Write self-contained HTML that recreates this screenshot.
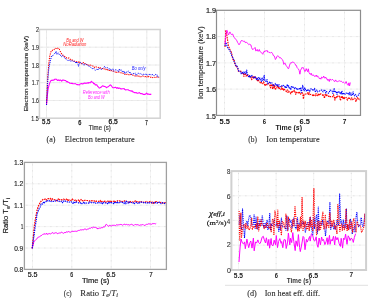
<!DOCTYPE html>
<html><head><meta charset="utf-8"><style>
html,body{margin:0;padding:0;background:#fff;width:378px;height:298px;overflow:hidden}
svg{display:block}
</style></head><body>
<div style="will-change:transform"><svg width="378" height="298" viewBox="0 0 378 298">
<rect width="378" height="298" fill="#fff"/>
<line x1="46.5" y1="29.5" x2="46.5" y2="118.2" stroke="#ececec" stroke-width="1"/>
<line x1="46.5" y1="31.5" x2="46.5" y2="118.2" stroke="#e2e2e2" stroke-width="1" stroke-dasharray="1 5"/>
<line x1="79.9" y1="29.5" x2="79.9" y2="118.2" stroke="#ececec" stroke-width="1"/>
<line x1="79.9" y1="31.5" x2="79.9" y2="118.2" stroke="#e2e2e2" stroke-width="1" stroke-dasharray="1 5"/>
<line x1="113.4" y1="29.5" x2="113.4" y2="118.2" stroke="#ececec" stroke-width="1"/>
<line x1="113.4" y1="31.5" x2="113.4" y2="118.2" stroke="#e2e2e2" stroke-width="1" stroke-dasharray="1 5"/>
<line x1="146.8" y1="29.5" x2="146.8" y2="118.2" stroke="#ececec" stroke-width="1"/>
<line x1="146.8" y1="31.5" x2="146.8" y2="118.2" stroke="#e2e2e2" stroke-width="1" stroke-dasharray="1 5"/>
<line x1="39.4" y1="100.5" x2="160.2" y2="100.5" stroke="#ececec" stroke-width="1"/>
<line x1="41.4" y1="100.5" x2="160.2" y2="100.5" stroke="#e2e2e2" stroke-width="1" stroke-dasharray="1 5"/>
<line x1="39.4" y1="82.7" x2="160.2" y2="82.7" stroke="#ececec" stroke-width="1"/>
<line x1="41.4" y1="82.7" x2="160.2" y2="82.7" stroke="#e2e2e2" stroke-width="1" stroke-dasharray="1 5"/>
<line x1="39.4" y1="65.0" x2="160.2" y2="65.0" stroke="#ececec" stroke-width="1"/>
<line x1="41.4" y1="65.0" x2="160.2" y2="65.0" stroke="#e2e2e2" stroke-width="1" stroke-dasharray="1 5"/>
<line x1="39.4" y1="47.2" x2="160.2" y2="47.2" stroke="#ececec" stroke-width="1"/>
<line x1="41.4" y1="47.2" x2="160.2" y2="47.2" stroke="#e2e2e2" stroke-width="1" stroke-dasharray="1 5"/>
<polyline points="46.5,105.0 47.3,95.8 48.1,89.0 48.9,85.6 49.7,83.1 50.5,81.1 51.3,80.3 52.1,80.4 52.9,80.1 53.7,80.3 54.5,79.3 55.3,79.2 56.1,79.1 56.9,79.8 57.7,80.5 58.5,79.9 59.3,80.6 60.1,79.9 60.9,80.3 61.7,81.2 62.5,80.1 63.3,80.0 64.1,80.2 64.9,80.5 65.7,80.5 66.5,81.8 67.3,81.5 68.1,82.3 68.9,82.3 69.7,83.2 70.5,83.3 71.3,83.4 72.1,83.4 72.9,83.6 73.7,83.7 74.5,83.7 75.3,83.6 76.1,84.1 76.9,84.6 77.7,84.5 78.5,84.7 79.3,85.0 80.1,84.0 80.9,83.8 81.7,83.6 82.5,83.9 83.3,83.7 84.1,83.2 84.9,82.9 85.7,83.4 86.5,83.3 87.3,82.8 88.1,83.3 88.9,82.5 89.7,82.7 90.5,82.7 91.3,81.3 92.1,82.2 92.9,82.2 93.7,83.7 94.5,83.5 95.3,84.9 96.1,84.7 96.9,84.9 97.7,86.4 98.5,87.0 99.3,88.1 100.1,87.8 100.9,87.3 101.7,86.8 102.5,85.7 103.3,86.0 104.1,86.4 104.9,86.5 105.7,86.9 106.5,87.7 107.3,87.1 108.1,86.7 108.9,86.1 109.7,85.3 110.5,84.9 111.3,85.7 112.1,86.8 112.9,87.7 113.7,87.7 114.5,87.6 115.3,87.3 116.1,87.6 116.9,88.4 117.7,87.6 118.5,88.5 119.3,88.1 120.1,88.3 120.9,89.0 121.7,88.9 122.5,88.8 123.3,88.7 124.1,88.6 124.9,89.6 125.7,90.0 126.5,89.8 127.3,89.8 128.1,89.8 128.9,90.3 129.7,90.6 130.5,90.8 131.3,91.3 132.1,90.8 132.9,91.9 133.7,92.1 134.5,92.6 135.3,92.8 136.1,92.5 136.9,93.1 137.7,93.3 138.5,93.0 139.3,92.6 140.1,93.2 140.9,93.7 141.7,93.6 142.5,93.8 143.3,94.5 144.1,94.3 144.9,94.6 145.7,93.9 146.5,93.1 147.3,94.1 148.1,93.9 148.9,94.3 149.7,94.4 150.5,94.4 151.3,94.0" fill="none" stroke="#ff00ff" stroke-width="1.1" stroke-linejoin="round" opacity="1"/>
<polyline points="46.5,105.0 47.3,84.4 48.1,71.7 48.9,62.8 49.7,56.3 50.5,53.1 51.3,50.7 52.1,50.7 52.9,49.9 53.7,49.9 54.5,49.0 55.3,48.2 56.1,48.4 56.9,48.6 57.7,48.1 58.5,49.5 59.3,49.2 60.1,51.0 60.9,52.6 61.7,53.9 62.5,55.0 63.3,55.2 64.1,56.3 64.9,56.4 65.7,56.9 66.5,57.9 67.3,57.6 68.1,57.9 68.9,58.0 69.7,58.6 70.5,59.6 71.3,60.3 72.1,60.0 72.9,60.3 73.7,60.9 74.5,61.2 75.3,61.5 76.1,61.7 76.9,61.7 77.7,62.3 78.5,62.2 79.3,61.3 80.1,62.7 80.9,63.2 81.7,63.8 82.5,63.2 83.3,62.5 84.1,63.7 84.9,63.5 85.7,64.6 86.5,64.5 87.3,64.5 88.1,64.8 88.9,65.3 89.7,64.8 90.5,64.9 91.3,65.8 92.1,66.1 92.9,66.0 93.7,66.2 94.5,67.6 95.3,66.8 96.1,66.9 96.9,67.1 97.7,67.0 98.5,67.6 99.3,68.2 100.1,67.8 100.9,68.3 101.7,68.8 102.5,68.5 103.3,69.3 104.1,68.8 104.9,69.5 105.7,69.2 106.5,70.5 107.3,69.7 108.1,69.6 108.9,70.4 109.7,70.5 110.5,71.2 111.3,70.5 112.1,71.0 112.9,71.2 113.7,71.0 114.5,71.3 115.3,72.2 116.1,71.6 116.9,72.5 117.7,72.5 118.5,72.1 119.3,72.1 120.1,72.6 120.9,72.7 121.7,73.2 122.5,72.9 123.3,73.5 124.1,73.6 124.9,74.5 125.7,74.0 126.5,74.4 127.3,74.2 128.1,74.8 128.9,74.6 129.7,75.2 130.5,74.6 131.3,74.5 132.1,75.1 132.9,75.1 133.7,75.2 134.5,75.8 135.3,76.0 136.1,76.5 136.9,76.1 137.7,75.8 138.5,75.5 139.3,76.7 140.1,76.7 140.9,76.7 141.7,76.5 142.5,76.0 143.3,76.2 144.1,76.8 144.9,76.7 145.7,76.5 146.5,77.2 147.3,76.7 148.1,77.4 148.9,76.4 149.7,76.9 150.5,77.2 151.3,77.3 152.1,77.9 152.9,77.4 153.7,77.2 154.5,77.2 155.3,77.5 156.1,77.7 156.9,76.9 157.7,77.0 158.5,77.3 159.3,77.6" fill="none" stroke="#ff0000" stroke-width="1.05" stroke-linejoin="round" stroke-dasharray="1.3 1.0" opacity="1"/>
<polyline points="46.5,105.0 47.3,88.9 48.1,75.7 48.9,68.1 49.7,64.1 50.5,60.2 51.3,57.1 52.1,55.6 52.9,55.6 53.7,54.5 54.5,53.5 55.3,53.6 56.1,51.3 56.9,54.4 57.7,53.2 58.5,52.9 59.3,54.8 60.1,54.6 60.9,56.3 61.7,56.8 62.5,55.4 63.3,56.0 64.1,57.3 64.9,57.9 65.7,59.0 66.5,59.3 67.3,60.4 68.1,60.3 68.9,60.5 69.7,60.3 70.5,61.0 71.3,61.2 72.1,60.5 72.9,61.5 73.7,61.5 74.5,61.4 75.3,61.7 76.1,63.5 76.9,61.8 77.7,62.6 78.5,66.4 79.3,63.8 80.1,62.7 80.9,62.8 81.7,63.3 82.5,63.7 83.3,64.8 84.1,64.8 84.9,64.9 85.7,63.8 86.5,64.7 87.3,65.0 88.1,65.8 88.9,66.2 89.7,66.4 90.5,67.2 91.3,67.6 92.1,68.6 92.9,68.6 93.7,68.3 94.5,69.3 95.3,70.3 96.1,69.4 96.9,69.0 97.7,70.2 98.5,68.3 99.3,68.4 100.1,68.9 100.9,69.1 101.7,69.3 102.5,68.5 103.3,67.7 104.1,66.8 104.9,66.7 105.7,67.9 106.5,67.9 107.3,67.6 108.1,68.0 108.9,69.3 109.7,68.3 110.5,69.8 111.3,70.2 112.1,69.6 112.9,68.8 113.7,71.2 114.5,70.4 115.3,70.0 116.1,69.3 116.9,70.3 117.7,70.7 118.5,71.8 119.3,68.9 120.1,70.6 120.9,69.9 121.7,70.1 122.5,71.9 123.3,72.2 124.1,71.0 124.9,73.7 125.7,72.1 126.5,72.2 127.3,71.9 128.1,70.9 128.9,71.6 129.7,73.3 130.5,72.6 131.3,74.4 132.1,74.1 132.9,73.4 133.7,73.5 134.5,73.7 135.3,72.9 136.1,75.5 136.9,74.4 137.7,73.2 138.5,73.3 139.3,74.0 140.1,73.5 140.9,73.9 141.7,74.4 142.5,75.0 143.3,74.2 144.1,74.4 144.9,74.8 145.7,73.5 146.5,74.5 147.3,75.5 148.1,74.4 148.9,74.2 149.7,74.5 150.5,74.0 151.3,75.1 152.1,74.4 152.9,74.8 153.7,75.9 154.5,75.1 155.3,74.4 156.1,75.0 156.9,74.6 157.7,77.0 158.5,76.7 159.3,76.4" fill="none" stroke="#0000ff" stroke-width="1.0" stroke-linejoin="round" stroke-dasharray="1.1 1.0" opacity="1"/>
<rect x="39.4" y="29.5" width="120.80" height="88.70" fill="none" stroke="#d2d2d2" stroke-width="1.5"/>
<line x1="224.5" y1="10.3" x2="224.5" y2="115.4" stroke="#f4f4f4" stroke-width="1"/>
<line x1="224.5" y1="12.3" x2="224.5" y2="115.4" stroke="#dddddd" stroke-width="1" stroke-dasharray="1 5"/>
<line x1="264.5" y1="10.3" x2="264.5" y2="115.4" stroke="#f4f4f4" stroke-width="1"/>
<line x1="264.5" y1="12.3" x2="264.5" y2="115.4" stroke="#dddddd" stroke-width="1" stroke-dasharray="1 5"/>
<line x1="304.5" y1="10.3" x2="304.5" y2="115.4" stroke="#f4f4f4" stroke-width="1"/>
<line x1="304.5" y1="12.3" x2="304.5" y2="115.4" stroke="#dddddd" stroke-width="1" stroke-dasharray="1 5"/>
<line x1="344.5" y1="10.3" x2="344.5" y2="115.4" stroke="#f4f4f4" stroke-width="1"/>
<line x1="344.5" y1="12.3" x2="344.5" y2="115.4" stroke="#dddddd" stroke-width="1" stroke-dasharray="1 5"/>
<line x1="216.5" y1="89.1" x2="360.5" y2="89.1" stroke="#f4f4f4" stroke-width="1"/>
<line x1="218.5" y1="89.1" x2="360.5" y2="89.1" stroke="#dddddd" stroke-width="1" stroke-dasharray="1 5"/>
<line x1="216.5" y1="62.9" x2="360.5" y2="62.9" stroke="#f4f4f4" stroke-width="1"/>
<line x1="218.5" y1="62.9" x2="360.5" y2="62.9" stroke="#dddddd" stroke-width="1" stroke-dasharray="1 5"/>
<line x1="216.5" y1="36.6" x2="360.5" y2="36.6" stroke="#f4f4f4" stroke-width="1"/>
<line x1="218.5" y1="36.6" x2="360.5" y2="36.6" stroke="#dddddd" stroke-width="1" stroke-dasharray="1 5"/>
<polyline points="225.0,47.0 225.7,30.8 226.4,32.8 227.1,37.1 227.8,41.6 228.5,46.2 229.2,47.8 229.9,49.5 230.6,50.9 231.3,52.3 232.0,55.0 232.7,58.9 233.4,59.9 234.1,59.7 234.8,63.8 235.5,65.2 236.2,67.0 236.9,66.6 237.6,67.3 238.3,71.1 239.0,71.3 239.7,70.8 240.4,71.1 241.1,71.3 241.8,72.7 242.5,73.2 243.2,72.6 243.9,76.4 244.6,74.4 245.3,73.0 246.0,76.1 246.7,74.9 247.4,75.7 248.1,75.0 248.8,75.8 249.5,76.4 250.2,76.8 250.9,76.5 251.6,79.6 252.3,78.4 253.0,76.2 253.7,78.6 254.4,76.1 255.1,77.4 255.8,78.9 256.5,78.1 257.2,80.3 257.9,81.5 258.6,80.4 259.3,81.3 260.0,82.2 260.7,83.6 261.4,82.5 262.1,82.5 262.8,83.7 263.5,81.8 264.2,82.8 264.9,86.0 265.6,84.4 266.3,83.8 267.0,84.8 267.7,83.9 268.4,83.4 269.1,84.6 269.8,85.2 270.5,87.8 271.2,84.2 271.9,85.3 272.6,89.3 273.3,84.1 274.0,88.5 274.7,85.4 275.4,90.0 276.1,87.7 276.8,87.7 277.5,85.5 278.2,88.1 278.9,86.8 279.6,88.8 280.3,89.6 281.0,89.4 281.7,86.5 282.4,90.0 283.1,88.2 283.8,90.7 284.5,89.3 285.2,90.5 285.9,91.0 286.6,91.6 287.3,89.9 288.0,92.5 288.7,91.0 289.4,92.0 290.1,92.2 290.8,93.9 291.5,91.3 292.2,92.1 292.9,91.3 293.6,91.9 294.3,90.3 295.0,91.9 295.7,94.3 296.4,92.3 297.1,92.7 297.8,92.1 298.5,92.9 299.2,91.5 299.9,93.8 300.6,94.2 301.3,93.2 302.0,92.5 302.7,93.4 303.4,99.0 304.1,94.0 304.8,94.0 305.5,94.0 306.2,94.2 306.9,93.9 307.6,92.8 308.3,94.5 309.0,92.3 309.7,94.6 310.4,94.5 311.1,94.3 311.8,94.4 312.5,95.2 313.2,96.3 313.9,94.6 314.6,94.5 315.3,95.8 316.0,93.6 316.7,95.2 317.4,95.6 318.1,94.1 318.8,95.8 319.5,93.6 320.2,94.3 320.9,93.8 321.6,94.1 322.3,94.7 323.0,96.2 323.7,94.9 324.4,98.3 325.1,94.6 325.8,96.0 326.5,94.0 327.2,96.0 327.9,96.1 328.6,96.5 329.3,95.6 330.0,96.6 330.7,96.7 331.4,96.5 332.1,96.8 332.8,96.5 333.5,94.7 334.2,96.6 334.9,100.2 335.6,96.6 336.3,96.7 337.0,97.6 337.7,96.0 338.4,96.6 339.1,96.1 339.8,97.7 340.5,100.6 341.2,95.9 341.9,98.3 342.6,96.5 343.3,99.3 344.0,96.8 344.7,98.6 345.4,98.2 346.1,97.4 346.8,99.0 347.5,100.1 348.2,98.3 348.9,97.3 349.6,98.5 350.3,98.1 351.0,99.8 351.7,97.8 352.4,99.6 353.1,99.3 353.8,98.9 354.5,98.2 355.2,98.7 355.9,101.5 356.6,99.9 357.3,97.7 358.0,98.5 358.7,98.1 359.4,100.9" fill="none" stroke="#ff0000" stroke-width="1.15" stroke-linejoin="round" stroke-dasharray="1.6 0.9" opacity="1"/>
<polyline points="225.0,46.0 225.7,42.3 226.4,43.8 227.1,46.1 227.8,47.7 228.5,48.9 229.2,49.7 229.9,50.8 230.6,52.3 231.3,54.3 232.0,56.3 232.7,57.3 233.4,58.7 234.1,61.7 234.8,62.5 235.5,64.6 236.2,66.3 236.9,66.1 237.6,67.6 238.3,69.7 239.0,71.2 239.7,71.1 240.4,72.0 241.1,73.7 241.8,72.2 242.5,73.6 243.2,72.0 243.9,73.9 244.6,72.3 245.3,72.0 246.0,73.8 246.7,70.1 247.4,74.8 248.1,75.3 248.8,77.3 249.5,75.5 250.2,77.7 250.9,76.2 251.6,75.0 252.3,76.3 253.0,77.3 253.7,77.6 254.4,78.2 255.1,76.3 255.8,77.8 256.5,79.5 257.2,78.2 257.9,80.0 258.6,77.5 259.3,79.1 260.0,78.2 260.7,80.0 261.4,81.5 262.1,77.5 262.8,80.4 263.5,80.6 264.2,75.3 264.9,80.6 265.6,81.5 266.3,81.1 267.0,79.5 267.7,83.9 268.4,83.4 269.1,82.7 269.8,81.6 270.5,83.3 271.2,82.7 271.9,82.8 272.6,83.7 273.3,86.1 274.0,85.6 274.7,84.9 275.4,83.4 276.1,84.6 276.8,86.0 277.5,84.8 278.2,86.4 278.9,84.5 279.6,86.1 280.3,86.6 281.0,86.5 281.7,85.7 282.4,86.2 283.1,85.3 283.8,85.9 284.5,86.9 285.2,85.9 285.9,88.3 286.6,87.1 287.3,84.1 288.0,86.7 288.7,85.9 289.4,88.9 290.1,88.1 290.8,89.4 291.5,86.0 292.2,87.2 292.9,86.2 293.6,88.2 294.3,88.7 295.0,87.1 295.7,88.8 296.4,89.0 297.1,88.1 297.8,89.4 298.5,89.9 299.2,88.6 299.9,89.5 300.6,87.4 301.3,92.5 302.0,89.4 302.7,85.4 303.4,88.5 304.1,90.8 304.8,87.7 305.5,89.5 306.2,90.9 306.9,89.4 307.6,90.4 308.3,89.5 309.0,90.3 309.7,91.4 310.4,90.0 311.1,88.5 311.8,88.9 312.5,90.0 313.2,90.6 313.9,89.6 314.6,88.4 315.3,92.3 316.0,90.2 316.7,90.0 317.4,91.9 318.1,91.3 318.8,91.1 319.5,91.1 320.2,90.4 320.9,90.3 321.6,90.0 322.3,90.3 323.0,91.9 323.7,91.0 324.4,89.5 325.1,90.8 325.8,93.1 326.5,91.6 327.2,92.3 327.9,92.7 328.6,93.2 329.3,92.5 330.0,90.1 330.7,90.2 331.4,91.0 332.1,91.0 332.8,93.4 333.5,92.0 334.2,88.0 334.9,92.5 335.6,91.1 336.3,92.0 337.0,94.4 337.7,92.6 338.4,91.1 339.1,92.0 339.8,93.2 340.5,92.1 341.2,94.0 341.9,90.9 342.6,94.6 343.3,93.7 344.0,92.9 344.7,93.9 345.4,94.1 346.1,93.0 346.8,93.2 347.5,92.7 348.2,93.9 348.9,94.7 349.6,92.4 350.3,95.0 351.0,93.0 351.7,95.3 352.4,95.5 353.1,91.8 353.8,94.7 354.5,95.8 355.2,94.4 355.9,95.2 356.6,96.5 357.3,95.6 358.0,95.3 358.7,94.9 359.4,92.9" fill="none" stroke="#0000ff" stroke-width="1.1" stroke-linejoin="round" stroke-dasharray="1.3 0.9" opacity="1"/>
<polyline points="225.0,44.0 225.7,37.4 226.4,30.7 227.1,30.3 227.8,33.0 228.5,34.9 229.2,33.6 229.9,31.9 230.6,33.4 231.3,34.5 232.0,34.3 232.7,34.0 233.4,36.0 234.1,37.5 234.8,38.1 235.5,38.9 236.2,39.8 236.9,40.8 237.6,42.5 238.3,43.5 239.0,44.8 239.7,44.0 240.4,42.4 241.1,40.9 241.8,40.2 242.5,41.0 243.2,41.3 243.9,41.3 244.6,41.2 245.3,42.7 246.0,42.2 246.7,42.5 247.4,43.1 248.1,43.6 248.8,44.7 249.5,44.0 250.2,44.8 250.9,44.9 251.6,47.6 252.3,49.2 253.0,49.6 253.7,48.7 254.4,48.3 255.1,47.5 255.8,51.0 256.5,50.6 257.2,49.4 257.9,51.3 258.6,51.0 259.3,49.5 260.0,51.6 260.7,51.9 261.4,52.6 262.1,53.5 262.8,54.3 263.5,51.9 264.2,52.1 264.9,50.7 265.6,51.1 266.3,51.1 267.0,50.3 267.7,52.1 268.4,51.8 269.1,52.6 269.8,52.3 270.5,53.2 271.2,52.4 271.9,52.5 272.6,53.6 273.3,55.5 274.0,55.7 274.7,57.0 275.4,59.5 276.1,58.5 276.8,56.8 277.5,55.8 278.2,55.9 278.9,56.8 279.6,57.9 280.3,57.6 281.0,58.1 281.7,59.1 282.4,59.6 283.1,61.1 283.8,64.4 284.5,63.3 285.2,63.3 285.9,65.2 286.6,66.2 287.3,67.2 288.0,68.6 288.7,68.5 289.4,65.9 290.1,63.8 290.8,62.7 291.5,63.0 292.2,62.0 292.9,62.0 293.6,62.3 294.3,63.0 295.0,63.7 295.7,65.4 296.4,65.5 297.1,67.6 297.8,68.5 298.5,69.1 299.2,70.6 299.9,74.2 300.6,70.2 301.3,68.9 302.0,67.3 302.7,67.9 303.4,67.7 304.1,69.6 304.8,71.7 305.5,71.1 306.2,68.6 306.9,70.4 307.6,71.7 308.3,68.8 309.0,72.6 309.7,73.9 310.4,74.5 311.1,73.1 311.8,75.2 312.5,75.3 313.2,74.7 313.9,75.9 314.6,76.4 315.3,75.5 316.0,76.6 316.7,75.1 317.4,76.9 318.1,76.3 318.8,77.5 319.5,78.9 320.2,78.1 320.9,79.2 321.6,77.0 322.3,77.7 323.0,77.7 323.7,76.0 324.4,78.0 325.1,78.0 325.8,77.1 326.5,79.1 327.2,78.9 327.9,80.5 328.6,79.5 329.3,81.5 330.0,78.9 330.7,79.9 331.4,80.2 332.1,79.4 332.8,79.6 333.5,80.3 334.2,81.4 334.9,81.5 335.6,79.9 336.3,81.2 337.0,81.7 337.7,81.6 338.4,81.2 339.1,81.1 339.8,80.7 340.5,81.3 341.2,81.2 341.9,81.6 342.6,82.5 343.3,82.1 344.0,82.6 344.7,83.3 345.4,83.2 346.1,81.5 346.8,83.3 347.5,84.7 348.2,85.4 348.9,82.8 349.6,85.9 350.3,82.5" fill="none" stroke="#ff00ff" stroke-width="0.9" stroke-linejoin="round" opacity="1"/>
<rect x="216.5" y="10.3" width="144.00" height="105.10" fill="none" stroke="#8c8c8c" stroke-width="1.2"/>
<line x1="32.5" y1="162.4" x2="32.5" y2="269.4" stroke="#f4f4f4" stroke-width="1"/>
<line x1="32.5" y1="164.4" x2="32.5" y2="269.4" stroke="#dddddd" stroke-width="1" stroke-dasharray="1 5"/>
<line x1="71.8" y1="162.4" x2="71.8" y2="269.4" stroke="#f4f4f4" stroke-width="1"/>
<line x1="71.8" y1="164.4" x2="71.8" y2="269.4" stroke="#dddddd" stroke-width="1" stroke-dasharray="1 5"/>
<line x1="111.2" y1="162.4" x2="111.2" y2="269.4" stroke="#f4f4f4" stroke-width="1"/>
<line x1="111.2" y1="164.4" x2="111.2" y2="269.4" stroke="#dddddd" stroke-width="1" stroke-dasharray="1 5"/>
<line x1="150.5" y1="162.4" x2="150.5" y2="269.4" stroke="#f4f4f4" stroke-width="1"/>
<line x1="150.5" y1="164.4" x2="150.5" y2="269.4" stroke="#dddddd" stroke-width="1" stroke-dasharray="1 5"/>
<line x1="24.4" y1="248.0" x2="166.4" y2="248.0" stroke="#f4f4f4" stroke-width="1"/>
<line x1="26.4" y1="248.0" x2="166.4" y2="248.0" stroke="#dddddd" stroke-width="1" stroke-dasharray="1 5"/>
<line x1="24.4" y1="226.6" x2="166.4" y2="226.6" stroke="#f4f4f4" stroke-width="1"/>
<line x1="26.4" y1="226.6" x2="166.4" y2="226.6" stroke="#dddddd" stroke-width="1" stroke-dasharray="1 5"/>
<line x1="24.4" y1="205.2" x2="166.4" y2="205.2" stroke="#f4f4f4" stroke-width="1"/>
<line x1="26.4" y1="205.2" x2="166.4" y2="205.2" stroke="#dddddd" stroke-width="1" stroke-dasharray="1 5"/>
<line x1="24.4" y1="183.8" x2="166.4" y2="183.8" stroke="#f4f4f4" stroke-width="1"/>
<line x1="26.4" y1="183.8" x2="166.4" y2="183.8" stroke="#dddddd" stroke-width="1" stroke-dasharray="1 5"/>
<polyline points="32.2,248.4 33.0,245.4 33.8,242.1 34.6,240.8 35.4,240.0 36.2,239.4 37.0,238.8 37.8,237.4 38.6,237.1 39.4,236.8 40.2,236.2 41.0,235.7 41.8,235.3 42.6,234.5 43.4,234.2 44.2,234.2 45.0,233.5 45.8,234.4 46.6,233.1 47.4,234.4 48.2,233.8 49.0,233.9 49.8,233.5 50.6,233.9 51.4,233.4 52.2,232.8 53.0,232.6 53.8,233.7 54.6,233.1 55.4,232.8 56.2,232.7 57.0,233.3 57.8,233.7 58.6,233.2 59.4,233.0 60.2,233.0 61.0,232.7 61.8,232.1 62.6,232.8 63.4,233.3 64.2,233.0 65.0,232.1 65.8,232.8 66.6,231.6 67.4,232.1 68.2,231.6 69.0,231.6 69.8,232.2 70.6,232.2 71.4,231.7 72.2,231.3 73.0,231.4 73.8,231.4 74.6,231.3 75.4,231.2 76.2,231.5 77.0,231.0 77.8,230.9 78.6,230.4 79.4,230.4 80.2,230.0 81.0,229.7 81.8,230.0 82.6,229.7 83.4,229.8 84.2,229.6 85.0,228.6 85.8,229.6 86.6,229.7 87.4,229.2 88.2,229.1 89.0,228.6 89.8,228.1 90.6,228.3 91.4,227.4 92.2,228.1 93.0,227.4 93.8,227.1 94.6,227.4 95.4,227.3 96.2,228.0 97.0,227.8 97.8,229.1 98.6,228.3 99.4,228.1 100.2,228.1 101.0,228.1 101.8,227.5 102.6,227.8 103.4,226.7 104.2,227.3 105.0,226.3 105.8,224.6 106.6,224.4 107.4,225.3 108.2,226.2 109.0,226.2 109.8,225.2 110.6,225.7 111.4,226.0 112.2,225.4 113.0,225.3 113.8,225.3 114.6,225.3 115.4,225.7 116.2,224.9 117.0,224.7 117.8,225.1 118.6,224.8 119.4,224.7 120.2,224.6 121.0,224.2 121.8,224.8 122.6,225.2 123.4,224.7 124.2,224.1 125.0,224.7 125.8,224.7 126.6,224.4 127.4,224.8 128.2,224.7 129.0,224.7 129.8,225.2 130.6,224.6 131.4,224.3 132.2,224.6 133.0,225.1 133.8,225.5 134.6,224.7 135.4,224.5 136.2,224.9 137.0,224.5 137.8,224.8 138.6,225.0 139.4,225.4 140.2,224.9 141.0,225.2 141.8,224.8 142.6,224.6 143.4,224.7 144.2,225.5 145.0,225.1 145.8,224.9 146.6,224.3 147.4,224.4 148.2,223.8 149.0,224.0 149.8,223.9 150.6,224.0 151.4,224.3 152.2,223.6 153.0,223.9 153.8,223.5 154.6,223.6 155.4,223.9 156.2,223.4" fill="none" stroke="#ff00ff" stroke-width="1.0" stroke-linejoin="round" opacity="1"/>
<polyline points="32.2,248.4 33.0,240.1 33.8,231.3 34.6,224.0 35.4,219.2 36.2,214.5 37.0,210.5 37.8,207.8 38.6,205.5 39.4,204.3 40.2,201.9 41.0,201.4 41.8,200.3 42.6,199.9 43.4,199.2 44.2,199.3 45.0,199.1 45.8,198.6 46.6,200.1 47.4,199.1 48.2,198.6 49.0,199.1 49.8,199.3 50.6,198.3 51.4,200.4 52.2,198.7 53.0,199.7 53.8,199.8 54.6,199.7 55.4,199.5 56.2,200.2 57.0,200.9 57.8,199.8 58.6,198.5 59.4,199.8 60.2,199.2 61.0,199.7 61.8,199.8 62.6,199.6 63.4,199.2 64.2,199.4 65.0,200.0 65.8,200.0 66.6,198.9 67.4,199.3 68.2,201.2 69.0,199.9 69.8,200.0 70.6,200.4 71.4,199.9 72.2,198.9 73.0,199.8 73.8,200.0 74.6,200.4 75.4,200.2 76.2,201.4 77.0,200.4 77.8,200.5 78.6,200.0 79.4,201.8 80.2,200.1 81.0,199.5 81.8,200.9 82.6,200.6 83.4,201.2 84.2,201.0 85.0,200.2 85.8,200.6 86.6,200.5 87.4,200.5 88.2,200.7 89.0,201.1 89.8,200.7 90.6,200.4 91.4,200.8 92.2,200.7 93.0,200.9 93.8,200.9 94.6,201.1 95.4,200.5 96.2,201.3 97.0,201.2 97.8,201.2 98.6,201.4 99.4,201.2 100.2,200.4 101.0,202.2 101.8,201.4 102.6,201.6 103.4,201.5 104.2,201.5 105.0,201.1 105.8,202.3 106.6,201.2 107.4,201.2 108.2,201.3 109.0,200.7 109.8,201.5 110.6,200.6 111.4,201.7 112.2,201.3 113.0,201.2 113.8,201.4 114.6,200.6 115.4,202.0 116.2,201.8 117.0,201.2 117.8,200.7 118.6,200.9 119.4,200.9 120.2,201.1 121.0,201.1 121.8,201.4 122.6,201.8 123.4,201.2 124.2,201.2 125.0,200.7 125.8,201.3 126.6,201.3 127.4,202.0 128.2,202.3 129.0,202.2 129.8,201.1 130.6,202.0 131.4,201.9 132.2,201.9 133.0,202.0 133.8,202.1 134.6,201.8 135.4,200.7 136.2,201.4 137.0,201.8 137.8,201.5 138.6,202.2 139.4,201.6 140.2,201.7 141.0,201.5 141.8,202.2 142.6,202.3 143.4,202.2 144.2,202.6 145.0,202.0 145.8,201.7 146.6,201.3 147.4,202.0 148.2,202.5 149.0,202.2 149.8,201.6 150.6,202.4 151.4,202.9 152.2,202.0 153.0,203.4 153.8,201.8 154.6,203.0 155.4,202.0 156.2,201.5 157.0,202.4 157.8,202.4 158.6,202.4 159.4,202.6 160.2,202.5 161.0,202.4 161.8,202.6 162.6,203.2 163.4,202.5 164.2,202.8 165.0,202.7 165.8,202.6" fill="none" stroke="#ff0000" stroke-width="1.2" stroke-linejoin="round" stroke-dasharray="1.6 0.9" opacity="1"/>
<polyline points="32.2,248.4 33.0,242.2 33.8,237.0 34.6,231.1 35.4,225.3 36.2,220.2 37.0,214.4 37.8,212.0 38.6,210.1 39.4,208.1 40.2,207.0 41.0,204.3 41.8,203.6 42.6,204.0 43.4,202.3 44.2,203.4 45.0,202.2 45.8,202.1 46.6,200.5 47.4,200.7 48.2,201.0 49.0,200.4 49.8,201.2 50.6,201.9 51.4,201.2 52.2,201.2 53.0,201.3 53.8,201.5 54.6,201.3 55.4,200.9 56.2,200.8 57.0,200.4 57.8,201.1 58.6,200.9 59.4,201.5 60.2,201.6 61.0,201.5 61.8,201.2 62.6,202.7 63.4,201.0 64.2,201.8 65.0,201.1 65.8,201.4 66.6,201.5 67.4,202.0 68.2,201.9 69.0,202.1 69.8,202.0 70.6,202.4 71.4,201.9 72.2,202.0 73.0,203.4 73.8,202.2 74.6,203.5 75.4,202.0 76.2,201.5 77.0,202.5 77.8,202.7 78.6,202.9 79.4,202.4 80.2,202.6 81.0,203.9 81.8,203.4 82.6,203.7 83.4,202.9 84.2,201.9 85.0,203.6 85.8,203.1 86.6,203.0 87.4,203.0 88.2,203.2 89.0,202.9 89.8,201.8 90.6,203.0 91.4,202.8 92.2,202.5 93.0,202.6 93.8,202.5 94.6,203.4 95.4,203.2 96.2,203.0 97.0,202.6 97.8,203.0 98.6,202.0 99.4,203.0 100.2,203.2 101.0,203.0 101.8,202.4 102.6,203.7 103.4,202.4 104.2,203.0 105.0,203.0 105.8,202.8 106.6,203.8 107.4,203.7 108.2,202.2 109.0,203.5 109.8,202.8 110.6,202.0 111.4,202.8 112.2,202.5 113.0,203.0 113.8,203.7 114.6,202.4 115.4,203.4 116.2,202.6 117.0,203.4 117.8,202.0 118.6,202.7 119.4,202.7 120.2,202.8 121.0,202.0 121.8,202.9 122.6,202.5 123.4,202.3 124.2,203.6 125.0,201.9 125.8,203.8 126.6,201.3 127.4,202.0 128.2,203.1 129.0,201.9 129.8,202.6 130.6,202.2 131.4,202.5 132.2,202.7 133.0,203.1 133.8,202.3 134.6,203.6 135.4,202.8 136.2,202.3 137.0,202.7 137.8,203.4 138.6,202.5 139.4,202.9 140.2,202.3 141.0,202.6 141.8,202.0 142.6,202.0 143.4,202.5 144.2,203.1 145.0,202.9 145.8,202.7 146.6,202.4 147.4,203.0 148.2,202.3 149.0,202.8 149.8,202.9 150.6,202.9 151.4,202.6 152.2,202.5 153.0,202.4 153.8,203.1 154.6,202.8 155.4,202.6 156.2,202.6 157.0,203.2 157.8,202.5 158.6,202.7 159.4,202.2 160.2,202.8 161.0,203.7 161.8,202.6 162.6,202.6 163.4,202.6 164.2,203.2 165.0,203.7 165.8,202.8" fill="none" stroke="#0000ff" stroke-width="1.2" stroke-linejoin="round" stroke-dasharray="1.3 0.9" opacity="1"/>
<rect x="24.4" y="162.4" width="142.00" height="107.00" fill="none" stroke="#a0a0a0" stroke-width="1.3"/>
<line x1="238.5" y1="171.1" x2="238.5" y2="270.0" stroke="#f4f4f4" stroke-width="1"/>
<line x1="238.5" y1="173.1" x2="238.5" y2="270.0" stroke="#dddddd" stroke-width="1" stroke-dasharray="1 5"/>
<line x1="276.1" y1="171.1" x2="276.1" y2="270.0" stroke="#f4f4f4" stroke-width="1"/>
<line x1="276.1" y1="173.1" x2="276.1" y2="270.0" stroke="#dddddd" stroke-width="1" stroke-dasharray="1 5"/>
<line x1="313.7" y1="171.1" x2="313.7" y2="270.0" stroke="#f4f4f4" stroke-width="1"/>
<line x1="313.7" y1="173.1" x2="313.7" y2="270.0" stroke="#dddddd" stroke-width="1" stroke-dasharray="1 5"/>
<line x1="351.3" y1="171.1" x2="351.3" y2="270.0" stroke="#f4f4f4" stroke-width="1"/>
<line x1="351.3" y1="173.1" x2="351.3" y2="270.0" stroke="#dddddd" stroke-width="1" stroke-dasharray="1 5"/>
<line x1="231.4" y1="245.1" x2="366.1" y2="245.1" stroke="#f4f4f4" stroke-width="1"/>
<line x1="233.4" y1="245.1" x2="366.1" y2="245.1" stroke="#dddddd" stroke-width="1" stroke-dasharray="1 5"/>
<line x1="231.4" y1="220.4" x2="366.1" y2="220.4" stroke="#f4f4f4" stroke-width="1"/>
<line x1="233.4" y1="220.4" x2="366.1" y2="220.4" stroke="#dddddd" stroke-width="1" stroke-dasharray="1 5"/>
<line x1="231.4" y1="195.8" x2="366.1" y2="195.8" stroke="#f4f4f4" stroke-width="1"/>
<line x1="233.4" y1="195.8" x2="366.1" y2="195.8" stroke="#dddddd" stroke-width="1" stroke-dasharray="1 5"/>
<polyline points="239.0,262.0 240.1,247.0 241.0,239.0 242.4,243.1 243.6,243.9 244.6,241.9 245.3,248.7 246.9,239.1 247.7,243.1 248.7,247.7 250.0,242.4 250.8,241.0 252.0,248.1 253.4,238.1 254.2,250.8 255.5,241.9 256.5,243.1 257.9,239.9 258.5,242.4 259.9,243.7 260.8,241.9 262.1,237.2 263.3,236.3 264.1,239.2 265.5,243.0 266.4,237.8 267.8,245.6 268.8,239.4 269.6,248.2 271.1,238.5 271.7,244.8 273.0,245.8 274.2,240.2 275.5,244.7 276.3,235.5 277.5,247.6 278.6,241.4 279.8,238.6 281.1,243.4 281.7,241.5 282.8,247.7 284.0,239.6 285.4,239.9 286.2,248.5 287.6,242.1 288.4,233.1 289.8,244.9 290.5,238.2 291.7,242.6 292.8,232.6 293.8,241.5 295.2,250.6 296.0,240.8 297.5,246.3 298.4,234.6 299.6,247.5 300.3,251.6 301.6,245.1 303.1,236.4 303.9,237.2 305.0,249.7 306.4,239.3 307.2,242.1 308.2,239.9 309.7,236.4 310.2,241.1 311.4,233.8 312.6,234.9 313.8,240.3 314.8,241.1 316.2,236.8 317.1,244.5 318.0,247.3 319.1,238.0 320.4,244.8 321.6,237.0 322.5,240.7 323.5,239.4 324.9,244.6 326.1,241.6 327.1,237.7 327.8,244.5 329.5,235.3 330.1,244.3 331.1,239.5 332.2,241.0 333.5,236.2 334.7,244.8 335.5,236.5 336.9,239.9 337.8,237.6 339.2,243.8 340.4,246.4 341.2,238.3 342.6,248.1 343.5,238.2 344.6,239.5 345.6,234.2 347.0,244.3 348.2,235.8 349.3,237.8 350.0,240.6 351.1,238.2 352.5,239.3 353.3,242.4 354.3,237.6 355.6,233.7" fill="none" stroke="#ff00ff" stroke-width="1.0" stroke-linejoin="round" opacity="1"/>
<polyline points="239.1,224.5 240.1,214.9 241.0,227.2 241.7,229.8 242.5,208.7 243.4,223.8 244.5,238.0 245.5,225.1 246.0,223.5 247.0,221.1 247.8,225.8 248.6,219.1 249.6,215.2 250.7,216.6 251.9,225.2 252.7,225.2 253.5,223.9 254.1,214.0 255.2,229.2 256.0,217.1 257.3,229.7 257.7,222.6 258.5,228.4 259.9,219.8 260.4,220.1 261.3,225.3 262.3,215.0 263.0,222.2 263.9,228.3 265.1,222.6 266.0,227.6 267.1,220.2 267.6,229.0 268.4,229.8 269.8,213.0 270.5,230.5 271.3,224.4 272.2,225.9 273.1,223.4 274.4,219.3 274.8,224.8 276.2,225.9 276.8,222.5 277.9,224.6 278.8,231.4 279.4,222.5 280.2,230.2 281.4,218.0 282.2,226.8 282.8,226.7 283.8,226.6 284.7,226.8 286.0,230.3 286.9,215.8 287.8,230.0 288.6,221.8 289.2,218.5 290.5,222.7 291.0,220.3 292.0,227.6 293.2,220.4 293.6,218.0 294.9,224.5 295.6,228.9 296.3,228.8 297.5,217.9 298.3,228.6 299.2,223.0 300.1,225.9 301.4,225.3 302.1,221.5 303.1,224.2 303.8,221.8 304.6,226.2 305.4,232.8 306.5,224.3 307.4,222.6 308.5,227.1 309.2,224.9 310.3,217.4 310.7,223.9 311.7,229.7 312.8,234.7 313.9,217.8 314.5,228.9 315.6,219.5 316.6,214.6 317.5,233.2 318.3,207.0 319.1,229.6 319.9,223.2 320.8,222.7 321.9,225.1 322.5,220.2 323.6,225.0 324.7,228.2 325.5,236.0 326.2,229.5 327.4,220.8 328.3,222.0 329.0,223.8 329.9,202.0 330.7,230.1 331.5,224.4 332.7,225.4 333.7,228.8 334.5,222.4 335.2,229.4 336.2,226.4 337.1,220.0 338.3,225.7 338.9,221.4 339.6,193.5 340.8,223.0 341.3,221.1 342.6,227.3 343.3,219.8 344.2,225.3 345.1,228.1 346.4,209.0 346.9,229.0 347.8,226.5 348.9,224.8 349.9,228.8 350.4,219.4 351.6,222.9 352.2,234.0 353.1,230.5 354.5,226.1 355.0,232.6 356.0,217.3 356.9,212.0 357.7,223.0 358.7,226.6 359.6,225.3 360.6,224.8 361.1,217.5 362.6,226.8 363.4,225.2 363.8,222.5 365.1,214.0 365.8,219.7" fill="none" stroke="#0000ff" stroke-width="1.1" stroke-linejoin="round" stroke-dasharray="1 0.9" opacity="1"/>
<polyline points="239.1,211.0 239.6,240.0 240.9,213.0 241.4,238.0 242.9,226.8 243.6,224.6 244.3,224.7 245.3,228.1 245.9,223.2 247.0,228.9 248.1,225.6 248.8,229.9 250.0,228.9 250.6,226.3 251.7,217.7 252.3,229.7 253.3,226.2 254.4,227.7 255.5,226.4 256.2,223.8 256.8,229.1 257.8,216.5 258.7,231.0 259.7,224.0 260.3,225.9 261.2,219.7 262.1,224.3 263.3,225.5 264.2,228.6 265.2,225.3 265.9,228.1 267.1,222.6 267.6,224.1 268.9,227.9 269.6,228.2 270.3,224.2 271.2,231.6 272.6,218.7 273.5,221.2 273.9,235.1 274.9,210.8 276.2,217.2 277.1,227.2 277.8,210.0 278.3,227.2 279.3,220.4 280.4,226.5 281.4,235.4 282.1,221.6 283.4,222.1 284.2,227.1 285.0,227.9 285.9,214.0 286.7,220.4 287.7,230.7 288.3,217.1 289.5,226.1 290.0,225.1 291.4,231.9 292.3,224.9 292.8,219.5 294.0,226.6 295.0,206.0 296.0,219.4 296.8,220.3 297.7,231.0 298.1,224.3 299.2,230.8 300.5,217.4 301.0,228.5 302.1,197.0 303.0,230.5 303.9,221.1 304.6,227.2 305.5,221.5 306.5,229.1 307.3,229.0 308.3,222.6 309.2,230.5 310.0,216.6 310.8,226.6 311.6,219.8 312.8,230.5 313.9,188.6 314.6,226.1 315.7,224.8 316.6,234.7 317.3,225.5 318.0,221.2 319.0,230.8 320.0,220.9 320.6,229.3 321.8,219.2 322.9,212.0 323.8,229.7 324.6,225.4 325.3,215.4 326.1,228.2 326.9,222.0 328.0,226.0 328.9,227.4 329.8,213.0 331.1,226.8 331.8,220.4 332.4,226.5 333.8,219.7 334.7,228.5 335.4,225.4 336.0,227.7 337.0,234.1 337.8,204.5 338.9,218.6 339.8,232.2 340.9,224.5 341.6,224.2 342.3,230.3 343.5,225.4 344.4,229.7 345.2,224.9 346.0,209.4 347.1,231.1 347.7,224.7 348.6,230.2 349.7,219.5 350.4,228.4 351.5,222.7 352.6,232.6 353.0,221.7 353.9,218.5 355.0,228.3 356.2,231.8 357.1,221.4 357.9,224.7 358.5,225.6 359.7,226.3 360.5,226.0 361.5,232.1 362.5,230.9 363.3,228.4 364.2,225.7 364.9,214.0 365.9,228.2" fill="none" stroke="#ff0000" stroke-width="1.15" stroke-linejoin="round" stroke-dasharray="1 0.9" opacity="1"/>
<rect x="231.4" y="171.1" width="134.70" height="98.90" fill="none" stroke="#d0d0d0" stroke-width="2"/>
<line x1="225" y1="285.3" x2="368" y2="285.3" stroke="#e0e0e0" stroke-width="1"/>
<text x="35.95" y="32.10" font-size="6.60" font-family="Liberation Sans" fill="#222" textLength="2.97" lengthAdjust="spacingAndGlyphs" stroke="#222" stroke-width="0.1">2</text>
<text x="31.65" y="49.80" font-size="6.60" font-family="Liberation Sans" fill="#222" textLength="7.25" lengthAdjust="spacingAndGlyphs" stroke="#222" stroke-width="0.1">1.9</text>
<text x="31.65" y="67.50" font-size="6.60" font-family="Liberation Sans" fill="#222" textLength="7.25" lengthAdjust="spacingAndGlyphs" stroke="#222" stroke-width="0.1">1.8</text>
<text x="31.65" y="85.45" font-size="6.60" font-family="Liberation Sans" fill="#222" textLength="7.24" lengthAdjust="spacingAndGlyphs" stroke="#222" stroke-width="0.1">1.7</text>
<text x="31.65" y="103.15" font-size="6.60" font-family="Liberation Sans" fill="#222" textLength="7.25" lengthAdjust="spacingAndGlyphs" stroke="#222" stroke-width="0.1">1.6</text>
<text x="31.35" y="120.85" font-size="6.60" font-family="Liberation Sans" fill="#222" textLength="7.39" lengthAdjust="spacingAndGlyphs" stroke="#222" stroke-width="0.1">1.5</text>
<text x="42.00" y="124.30" font-size="6.60" font-family="Liberation Sans" fill="#111" textLength="8.53" lengthAdjust="spacingAndGlyphs" stroke="#111" stroke-width="0.25">5.5</text>
<text x="78.15" y="124.65" font-size="6.60" font-family="Liberation Sans" fill="#111" textLength="3.13" lengthAdjust="spacingAndGlyphs" stroke="#111" stroke-width="0.25">6</text>
<text x="108.50" y="124.35" font-size="6.60" font-family="Liberation Sans" fill="#111" textLength="9.38" lengthAdjust="spacingAndGlyphs" stroke="#111" stroke-width="0.25">6.5</text>
<text x="145.15" y="124.60" font-size="6.60" font-family="Liberation Sans" fill="#111" textLength="2.53" lengthAdjust="spacingAndGlyphs" stroke="#111" stroke-width="0.25">7</text>
<text x="88.80" y="129.90" font-size="6.40" font-family="Liberation Sans" fill="#333" textLength="22.01" lengthAdjust="spacingAndGlyphs" stroke="#333" stroke-width="0.15">Time (s)</text>
<text transform="translate(28.00,111.60) rotate(-90)" font-size="6.20" font-family="Liberation Sans" fill="#111" textLength="75.71" lengthAdjust="spacingAndGlyphs" stroke="#111" stroke-width="0.12">Electron temperature (keV)</text>
<text x="66.30" y="41.62" font-size="4.90" font-family="Liberation Sans" fill="#ff2020" textLength="17.20" lengthAdjust="spacingAndGlyphs" font-style="italic">Bo and W</text>
<text x="63.25" y="46.45" font-size="4.90" font-family="Liberation Sans" fill="#ff2020" textLength="23.15" lengthAdjust="spacingAndGlyphs" font-style="italic">NoRadiation</text>
<text x="131.80" y="70.12" font-size="4.90" font-family="Liberation Sans" fill="#2020ff" textLength="13.66" lengthAdjust="spacingAndGlyphs" font-style="italic">Bo only</text>
<text x="82.75" y="93.65" font-size="4.90" font-family="Liberation Sans" fill="#ff20ff" textLength="26.95" lengthAdjust="spacingAndGlyphs" font-style="italic">Reference with</text>
<text x="87.95" y="98.98" font-size="4.90" font-family="Liberation Sans" fill="#ff20ff" textLength="16.70" lengthAdjust="spacingAndGlyphs" font-style="italic">Bo and W</text>
<text x="46.55" y="142.00" font-size="7.80" font-family="Liberation Serif" fill="#2a2a2a" textLength="9.00" lengthAdjust="spacingAndGlyphs" stroke="#2a2a2a" stroke-width="0.1">(a)</text>
<text x="64.80" y="142.00" font-size="7.80" font-family="Liberation Serif" fill="#2a2a2a" textLength="69.86" lengthAdjust="spacingAndGlyphs" stroke="#2a2a2a" stroke-width="0.1">Electron temperature</text>
<text x="205.95" y="13.15" font-size="7.40" font-family="Liberation Sans" fill="#222" textLength="10.13" lengthAdjust="spacingAndGlyphs" stroke="#222" stroke-width="0.2">1.9</text>
<text x="205.90" y="39.45" font-size="7.40" font-family="Liberation Sans" fill="#222" textLength="9.87" lengthAdjust="spacingAndGlyphs" stroke="#222" stroke-width="0.2">1.8</text>
<text x="205.90" y="65.65" font-size="7.40" font-family="Liberation Sans" fill="#222" textLength="10.13" lengthAdjust="spacingAndGlyphs" stroke="#222" stroke-width="0.2">1.7</text>
<text x="205.90" y="91.95" font-size="7.40" font-family="Liberation Sans" fill="#222" textLength="10.13" lengthAdjust="spacingAndGlyphs" stroke="#222" stroke-width="0.2">1.6</text>
<text x="206.10" y="118.70" font-size="7.40" font-family="Liberation Sans" fill="#222" textLength="9.67" lengthAdjust="spacingAndGlyphs" stroke="#222" stroke-width="0.2">1.5</text>
<text x="219.55" y="123.65" font-size="8.00" font-family="Liberation Sans" fill="#111" textLength="10.38" lengthAdjust="spacingAndGlyphs" font-weight="bold">5.5</text>
<text x="262.80" y="123.65" font-size="8.00" font-family="Liberation Sans" fill="#111" textLength="3.30" lengthAdjust="spacingAndGlyphs" font-weight="bold">6</text>
<text x="299.50" y="123.65" font-size="8.00" font-family="Liberation Sans" fill="#111" textLength="10.37" lengthAdjust="spacingAndGlyphs" font-weight="bold">6.5</text>
<text x="342.65" y="123.65" font-size="8.00" font-family="Liberation Sans" fill="#111" textLength="3.62" lengthAdjust="spacingAndGlyphs" font-weight="bold">7</text>
<text x="275.40" y="129.85" font-size="7.40" font-family="Liberation Sans" fill="#222" textLength="26.71" lengthAdjust="spacingAndGlyphs" font-weight="bold">Time (<tspan font-style="italic">s</tspan>)</text>
<text transform="translate(202.75,98.90) rotate(-90)" font-size="6.80" font-family="Liberation Sans" fill="#222" textLength="72.72" lengthAdjust="spacingAndGlyphs" stroke="#222" stroke-width="0.12">Ion temperature (keV)</text>
<text x="248.20" y="142.00" font-size="7.80" font-family="Liberation Serif" fill="#2a2a2a" textLength="8.70" lengthAdjust="spacingAndGlyphs" stroke="#2a2a2a" stroke-width="0.1">(b)</text>
<text x="266.20" y="142.00" font-size="7.80" font-family="Liberation Serif" fill="#2a2a2a" textLength="53.46" lengthAdjust="spacingAndGlyphs" stroke="#2a2a2a" stroke-width="0.1">Ion temperature</text>
<text x="13.90" y="164.95" font-size="7.40" font-family="Liberation Sans" fill="#222" textLength="9.37" lengthAdjust="spacingAndGlyphs" stroke="#222" stroke-width="0.15">1.3</text>
<text x="13.90" y="186.30" font-size="7.40" font-family="Liberation Sans" fill="#222" textLength="9.37" lengthAdjust="spacingAndGlyphs" stroke="#222" stroke-width="0.15">1.2</text>
<text x="13.90" y="207.90" font-size="7.40" font-family="Liberation Sans" fill="#222" textLength="9.37" lengthAdjust="spacingAndGlyphs" stroke="#222" stroke-width="0.15">1.1</text>
<text x="20.65" y="229.25" font-size="7.40" font-family="Liberation Sans" fill="#222" textLength="2.65" lengthAdjust="spacingAndGlyphs" stroke="#222" stroke-width="0.15">1</text>
<text x="14.15" y="250.60" font-size="7.40" font-family="Liberation Sans" fill="#222" textLength="9.09" lengthAdjust="spacingAndGlyphs" stroke="#222" stroke-width="0.15">0.9</text>
<text x="14.15" y="271.95" font-size="7.40" font-family="Liberation Sans" fill="#222" textLength="9.09" lengthAdjust="spacingAndGlyphs" stroke="#222" stroke-width="0.15">0.8</text>
<text x="27.65" y="277.45" font-size="7.60" font-family="Liberation Sans" fill="#111" textLength="9.92" lengthAdjust="spacingAndGlyphs" stroke="#111" stroke-width="0.2">5.5</text>
<text x="70.15" y="277.40" font-size="7.60" font-family="Liberation Sans" fill="#111" textLength="2.97" lengthAdjust="spacingAndGlyphs" stroke="#111" stroke-width="0.2">6</text>
<text x="106.15" y="277.40" font-size="7.60" font-family="Liberation Sans" fill="#111" textLength="9.38" lengthAdjust="spacingAndGlyphs" stroke="#111" stroke-width="0.2">6.5</text>
<text x="149.15" y="276.95" font-size="7.60" font-family="Liberation Sans" fill="#111" textLength="3.46" lengthAdjust="spacingAndGlyphs" stroke="#111" stroke-width="0.2">7</text>
<text x="81.95" y="283.15" font-size="7.20" font-family="Liberation Sans" fill="#222" textLength="27.36" lengthAdjust="spacingAndGlyphs" stroke="#222" stroke-width="0.2">Time (s)</text>
<text transform="translate(8.28,233.55) rotate(-90)" font-size="7.40" font-family="Liberation Sans" fill="#111" textLength="35.42" lengthAdjust="spacingAndGlyphs" stroke="#111" stroke-width="0.15">Ratio T<tspan font-size="70%" dy="1.6">e</tspan><tspan dy="-1.6">/T</tspan><tspan font-size="70%" dy="1.6">i</tspan></text>
<text x="63.85" y="296.00" font-size="7.80" font-family="Liberation Serif" fill="#2a2a2a" textLength="7.89" lengthAdjust="spacingAndGlyphs" stroke="#2a2a2a" stroke-width="0.1">(c)</text>
<text x="80.35" y="296.00" font-size="7.80" font-family="Liberation Serif" fill="#2a2a2a" textLength="37.51" lengthAdjust="spacingAndGlyphs" stroke="#2a2a2a" stroke-width="0.1">Ratio <tspan font-style="italic">T</tspan><tspan font-size="70%" dy="1.3" font-style="italic">e</tspan><tspan dy="-1.3">/</tspan><tspan font-style="italic">T</tspan><tspan font-size="70%" dy="1.3" font-style="italic">i</tspan></text>
<text x="227.00" y="173.65" font-size="6.80" font-family="Liberation Sans" fill="#333" textLength="3.32" lengthAdjust="spacingAndGlyphs" stroke="#333" stroke-width="0.1">8</text>
<text x="226.80" y="198.65" font-size="6.80" font-family="Liberation Sans" fill="#333" textLength="3.80" lengthAdjust="spacingAndGlyphs" stroke="#333" stroke-width="0.1">6</text>
<text x="226.80" y="223.75" font-size="6.80" font-family="Liberation Sans" fill="#333" textLength="3.46" lengthAdjust="spacingAndGlyphs" stroke="#333" stroke-width="0.1">4</text>
<text x="226.70" y="247.45" font-size="6.80" font-family="Liberation Sans" fill="#333" textLength="4.01" lengthAdjust="spacingAndGlyphs" stroke="#333" stroke-width="0.1">2</text>
<text x="227.00" y="272.65" font-size="6.80" font-family="Liberation Sans" fill="#333" textLength="3.93" lengthAdjust="spacingAndGlyphs" stroke="#333" stroke-width="0.1">0</text>
<text x="233.85" y="277.90" font-size="6.90" font-family="Liberation Sans" fill="#222" textLength="9.23" lengthAdjust="spacingAndGlyphs" font-weight="bold">5.5</text>
<text x="274.70" y="277.50" font-size="6.90" font-family="Liberation Sans" fill="#222" textLength="3.20" lengthAdjust="spacingAndGlyphs" font-weight="bold">6</text>
<text x="308.50" y="277.90" font-size="6.90" font-family="Liberation Sans" fill="#222" textLength="9.73" lengthAdjust="spacingAndGlyphs" font-weight="bold">6.5</text>
<text x="349.50" y="277.25" font-size="6.90" font-family="Liberation Sans" fill="#222" textLength="3.62" lengthAdjust="spacingAndGlyphs" font-weight="bold">7</text>
<text x="286.80" y="282.95" font-size="6.80" font-family="Liberation Sans" fill="#333" textLength="24.21" lengthAdjust="spacingAndGlyphs" font-weight="bold">Time (s)</text>
<text x="209.10" y="215.65" font-size="8.20" font-family="Liberation Serif" fill="#111" textLength="15.85" lengthAdjust="spacingAndGlyphs" font-style="italic" stroke="#111" stroke-width="0.2">χ<tspan font-size="82%" dy="0.5">eff,i</tspan></text>
<text x="206.85" y="225.45" font-size="7.00" font-family="Liberation Serif" fill="#111" textLength="19.66" lengthAdjust="spacingAndGlyphs" stroke="#111" stroke-width="0.15">(m<tspan font-size="60%" dy="-2.2">2</tspan><tspan dy="2.2">/s)</tspan></text>
<text x="247.20" y="296.00" font-size="7.80" font-family="Liberation Serif" fill="#2a2a2a" textLength="9.53" lengthAdjust="spacingAndGlyphs" stroke="#2a2a2a" stroke-width="0.1">(d)</text>
<text x="264.65" y="296.00" font-size="7.80" font-family="Liberation Serif" fill="#2a2a2a" textLength="55.41" lengthAdjust="spacingAndGlyphs" stroke="#2a2a2a" stroke-width="0.1">Ion heat eff. diff.</text>
</svg></div>
</body></html>
